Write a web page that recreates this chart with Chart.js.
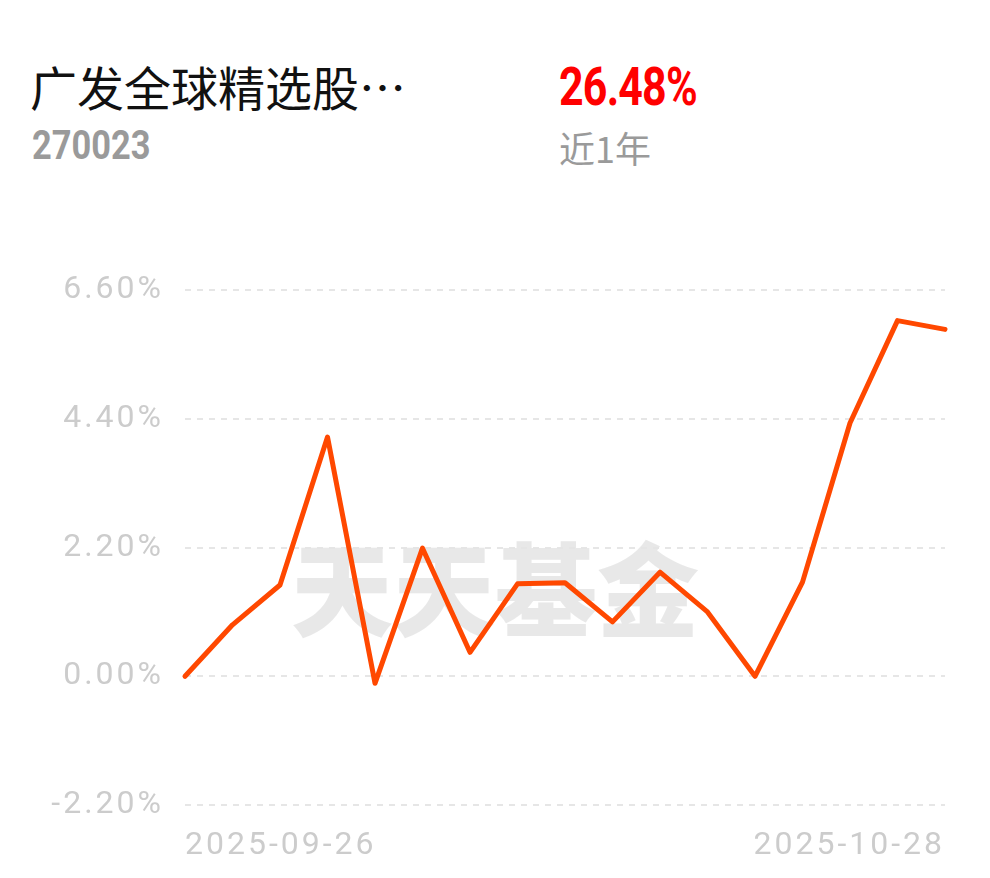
<!DOCTYPE html>
<html><head><meta charset="utf-8">
<script src="https://cdn.jsdelivr.net/npm/chart.js@4.4.0/dist/chart.umd.min.js"></script>
<style>
html,body{margin:0;padding:0;background:#fff;width:990px;height:878px;overflow:hidden;}
.t{position:absolute;white-space:nowrap;}
#name{left:30px;top:54px;font:400 47px "Noto Sans CJK SC",sans-serif;color:#111;line-height:64px;}
#code{left:32px;top:124px;font:700 40px Roboto,sans-serif;color:#9a9a9a;line-height:44px;transform:scaleX(0.86);transform-origin:left center;}
#ret{left:559px;top:59px;font:700 53px Roboto,sans-serif;color:#f00;line-height:56px;transform:scaleX(0.81);transform-origin:left center;letter-spacing:-1px;}
#per{left:559px;top:123px;font:400 36px "Noto Sans CJK SC",sans-serif;color:#9a9a9a;line-height:48px;}
#wrap{position:absolute;left:0;top:250px;width:990px;height:628px;}
</style></head><body>
<div class="t" id="name">广发全球精选股…</div>
<div class="t" id="code">270023</div>
<div class="t" id="ret">26.48%</div>
<div class="t" id="per">近1年</div>
<div id="wrap"><canvas id="c" width="990" height="628"></canvas></div>
<script>
const categories = ["2025-09-26","2025-09-29","2025-09-30","2025-10-09","2025-10-10","2025-10-13","2025-10-14","2025-10-15","2025-10-16","2025-10-17","2025-10-20","2025-10-21","2025-10-22","2025-10-23","2025-10-24","2025-10-27","2025-10-28"];
const values = [0.00,0.88,1.56,4.09,-0.12,2.19,0.41,1.58,1.60,0.93,1.78,1.10,0.00,1.61,4.33,6.08,5.93];
const yTicks = [-2.2,0.0,2.2,4.4,6.6];
const watermark = "天天基金";

const spacingPlugin = {
  id:'spacing',
  beforeInit(chart){ chart.ctx.letterSpacing = '3px'; },
  beforeLayout(chart){ chart.ctx.letterSpacing = '3px'; },
  beforeDraw(chart){ chart.ctx.letterSpacing = '3px'; }
};

const wmPlugin = {
  id:'wm',
  beforeDatasetsDraw(chart){
    const {ctx} = chart;
    ctx.save();
    ctx.letterSpacing = '0px';
    ctx.font = '900 102px "Noto Sans CJK SC", serif';
    ctx.fillStyle = 'rgba(228,228,228,0.85)';
    ctx.textAlign = 'center';
    ctx.textBaseline = 'middle';
    ctx.fillText(watermark, 495, 340);
    ctx.restore();
  }
};

new Chart(document.getElementById('c'), {
  type:'line',
  data:{labels:categories, datasets:[{data:values, borderColor:'#ff4800', borderWidth:5, pointRadius:0, tension:0, borderCapStyle:'round', borderJoinStyle:'round', fill:false, clip:false}]},
  options:{
    responsive:false, animation:false,
    layout:{padding:{left:0,right:45,top:38,bottom:0}},
    plugins:{legend:{display:false}, tooltip:{enabled:false}},
    scales:{
      x:{
        offset:false,
        grid:{display:false, drawTicks:false},
        border:{display:false},
        afterFit(s){ s.height = 73; },
        ticks:{
          autoSkip:false, maxRotation:0, align:'inner', padding:22,
          color:'#cccccc', font:{family:'Roboto', size:32},
          callback(v,i){ return (i===0||i===categories.length-1) ? categories[i] : ''; }
        }
      },
      y:{
        min:-2.2, max:6.6,
        afterBuildTicks(s){ s.ticks = yTicks.map(v=>({value:v})); },
        afterFit(s){ s.width = 185; },
        grid:{color:'#e6e6e6', lineWidth:2, drawTicks:false},
        border:{display:false, dash:[6,6]},
        ticks:{
          padding:21, color:'#cccccc', font:{family:'Roboto', size:32},
          callback(v){ return v.toFixed(2)+'%'; }
        }
      }
    }
  },
  plugins:[spacingPlugin, wmPlugin]
});
</script>
</body></html>
